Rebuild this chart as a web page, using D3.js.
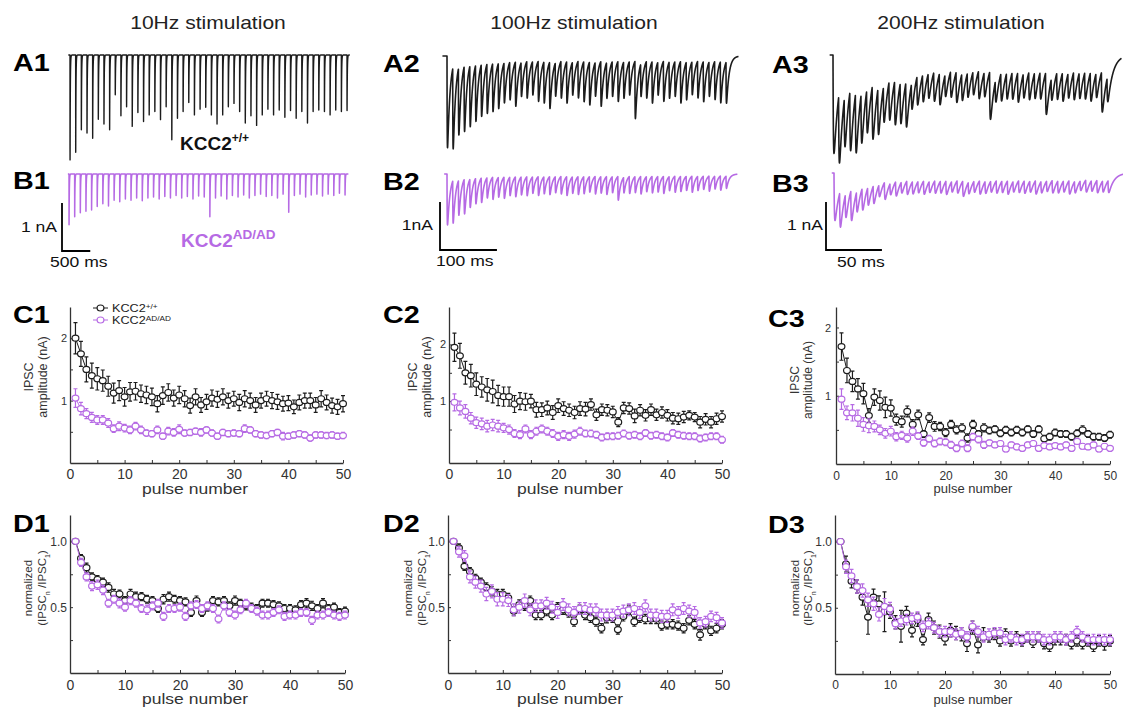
<!DOCTYPE html>
<html lang="en">
<head>
<meta charset="utf-8">
<title>KCC2 IPSC trains</title>
<script src="https://d3js.org/d3.v7.min.js"></script>
<style>
  body { margin: 0; background: #fff; }
  text { font-family: "Liberation Sans", Arial, Helvetica, sans-serif; }
</style>
</head>
<body>
<script>
// ---------- data ----------
var titles = ["10Hz stimulation", "100Hz stimulation", "200Hz stimulation"];
var periods = [100, 10, 5];          // ms between pulses
var xTickVals = [0, 10, 20, 30, 40, 50];

// example traces: IPSC amplitude (nA) added by each of the 50 pulses
var a1Amp = [2.19, 2.03, 1.56, 1.63, 1.74, 1.34, 1.44, 1.56, 0.83, 1.27,
             1.08, 1.49, 1.2, 1.39, 1.25, 1.18, 1.35, 1.08, 1.77, 1.32,
             1.18, 0.99, 1.25, 1.13, 1.09, 1.25, 1.44, 1.25, 1.08, 1.01,
             1.18, 1.42, 1.27, 1.47, 1.25, 1.13, 1.25, 1.15, 1.3, 1.16,
             1.32, 1.18, 1.42, 1.18, 1.15, 1.18, 1.25, 1.15, 1.18, 1.16];
var b1Amp = [1.06, 0.89, 0.81, 0.78, 0.75, 0.68, 0.62, 0.67, 0.55, 0.58,
             0.52, 0.55, 0.5, 0.56, 0.5, 0.48, 0.52, 0.47, 0.5, 0.45,
             0.5, 0.47, 0.52, 0.46, 0.48, 0.89, 0.5, 0.46, 0.52, 0.45,
             0.48, 0.44, 0.5, 0.45, 0.42, 0.47, 0.45, 0.5, 0.42, 0.8,
             0.45, 0.42, 0.48, 0.44, 0.42, 0.46, 0.42, 0.45, 0.4, 0.44];
var a2Amp = [1.91, 1.71, 1.42, 1.38, 1.29, 1.19, 1.1, 1.05, 1.02, 0.96,
             0.85, 0.8, 0.94, 0.72, 0.78, 0.71, 0.85, 0.87, 0.98, 0.71,
             0.78, 0.88, 0.7, 0.78, 0.85, 0.91, 0.72, 0.95, 0.76, 0.74,
             0.85, 0.77, 0.71, 1.21, 0.69, 0.78, 0.88, 0.7, 0.85, 0.77,
             0.74, 0.88, 0.8, 0.7, 0.78, 0.85, 0.73, 0.81, 0.87, 0.87];
var b2Amp = [1.06, 0.9, 0.74, 0.73, 0.6, 0.54, 0.52, 0.43, 0.47, 0.42,
             0.45, 0.39, 0.42, 0.38, 0.4, 0.35, 0.4, 0.36, 0.38, 0.34,
             0.37, 0.4, 0.35, 0.38, 0.36, 0.33, 0.37, 0.35, 0.38, 0.34,
             0.5, 0.33, 0.36, 0.34, 0.37, 0.32, 0.35, 0.33, 0.36, 0.3,
             0.34, 0.32, 0.3, 0.34, 0.3, 0.28, 0.32, 0.27, 0.3, 0.26];
var a3Amp = [2.05, 1.51, 1.12, 1.33, 1.34, 1.12, 0.98, 1.19, 1.04, 0.82,
             0.87, 0.98, 0.92, 1.0, 0.6, 0.65, 0.61, 0.56, 0.65, 0.7,
             0.5, 0.58, 0.68, 0.6, 0.55, 0.52, 0.62, 0.55, 1.04, 0.5,
             0.62, 0.58, 0.6, 0.66, 0.55, 0.62, 0.58, 0.6, 0.92, 0.5,
             0.6, 0.64, 0.56, 0.62, 0.58, 0.6, 0.64, 0.55, 0.88, 0.55];
var b3Amp = [0.99, 0.77, 0.53, 0.67, 0.46, 0.49, 0.4, 0.4, 0.27, 0.38,
             0.26, 0.32, 0.25, 0.3, 0.28, 0.26, 0.3, 0.25, 0.28, 0.27,
             0.3, 0.24, 0.28, 0.34, 0.26, 0.25, 0.3, 0.27, 0.25, 0.28,
             0.26, 0.3, 0.24, 0.27, 0.28, 0.25, 0.3, 0.26, 0.24, 0.28,
             0.27, 0.25, 0.3, 0.26, 0.22, 0.27, 0.24, 0.28, 0.25, 0.27];

// mean IPSC amplitude (nA), pulses 1..50
var c1Wt = [2.0, 1.75, 1.5, 1.4, 1.35, 1.32, 1.23, 1.12, 1.16, 1.06,
            1.14, 1.15, 1.11, 1.09, 1.06, 0.95, 1.08, 1.13, 1.04, 1.09,
            1.03, 0.92, 1.06, 0.93, 0.98, 1.04, 1.02, 1.06, 1.0, 1.03,
            0.97, 1.03, 1.0, 0.93, 1.0, 1.03, 1.0, 0.98, 0.95, 0.96,
            0.9, 0.97, 1.0, 1.0, 0.93, 1.03, 0.97, 0.92, 0.9, 0.95];
var c1WtErr = [0.25, 0.2, 0.2, 0.2, 0.18, 0.17, 0.16, 0.16, 0.16, 0.15,
               0.15, 0.14, 0.14, 0.14, 0.14, 0.13, 0.14, 0.14, 0.13, 0.14,
               0.13, 0.12, 0.13, 0.12, 0.12, 0.13, 0.13, 0.13, 0.12, 0.12,
               0.13, 0.13, 0.12, 0.12, 0.12, 0.12, 0.13, 0.12, 0.12, 0.12,
               0.11, 0.12, 0.12, 0.12, 0.12, 0.13, 0.12, 0.12, 0.12, 0.13];
var c1Ad = [1.04, 0.87, 0.79, 0.73, 0.69, 0.69, 0.64, 0.55, 0.59, 0.56,
            0.53, 0.59, 0.53, 0.48, 0.47, 0.53, 0.43, 0.51, 0.49, 0.54,
            0.48, 0.49, 0.51, 0.49, 0.53, 0.48, 0.43, 0.49, 0.47, 0.48,
            0.47, 0.55, 0.53, 0.47, 0.45, 0.44, 0.47, 0.49, 0.43, 0.43,
            0.45, 0.47, 0.45, 0.4, 0.45, 0.45, 0.44, 0.45, 0.43, 0.44];
var c1AdErr = [0.15, 0.1, 0.08, 0.08, 0.07, 0.07, 0.07, 0.06, 0.07, 0.06,
               0.06, 0.06, 0.06, 0.05, 0.05, 0.06, 0.05, 0.06, 0.06, 0.07,
               0.05, 0.05, 0.05, 0.06, 0.05, 0.05, 0.05, 0.05, 0.05, 0.05,
               0.05, 0.06, 0.05, 0.05, 0.05, 0.05, 0.05, 0.05, 0.06, 0.05,
               0.05, 0.05, 0.05, 0.05, 0.05, 0.05, 0.05, 0.05, 0.05, 0.05];
var c2Wt = [1.95, 1.8, 1.5, 1.45, 1.3, 1.25, 1.2, 1.17, 1.1, 1.08,
            1.08, 0.95, 1.0, 0.99, 1.0, 0.85, 0.85, 0.88, 0.8, 0.92,
            0.87, 0.84, 0.8, 0.87, 0.86, 0.94, 0.76, 0.85, 0.84, 0.81,
            0.63, 0.88, 0.87, 0.74, 0.84, 0.75, 0.85, 0.76, 0.8, 0.75,
            0.7, 0.69, 0.72, 0.75, 0.72, 0.63, 0.68, 0.63, 0.69, 0.73];
var c2WtErr = [0.25, 0.22, 0.2, 0.2, 0.2, 0.18, 0.2, 0.2, 0.18, 0.17,
               0.17, 0.15, 0.15, 0.15, 0.12, 0.13, 0.12, 0.12, 0.12, 0.12,
               0.12, 0.11, 0.11, 0.12, 0.12, 0.1, 0.1, 0.1, 0.1, 0.1,
               0.08, 0.1, 0.1, 0.12, 0.1, 0.1, 0.1, 0.1, 0.1, 0.1,
               0.1, 0.1, 0.1, 0.08, 0.08, 0.1, 0.1, 0.1, 0.1, 0.1];
var c2Ad = [0.98, 0.88, 0.82, 0.7, 0.62, 0.6, 0.56, 0.58, 0.56, 0.53,
            0.5, 0.43, 0.41, 0.51, 0.41, 0.47, 0.51, 0.47, 0.43, 0.38,
            0.41, 0.38, 0.42, 0.47, 0.43, 0.43, 0.41, 0.36, 0.38, 0.38,
            0.39, 0.43, 0.39, 0.41, 0.38, 0.44, 0.39, 0.41, 0.38, 0.36,
            0.44, 0.41, 0.39, 0.38, 0.38, 0.34, 0.36, 0.38, 0.38, 0.32];
var c2AdErr = [0.15, 0.12, 0.12, 0.1, 0.1, 0.1, 0.1, 0.1, 0.1, 0.08,
               0.08, 0.07, 0.07, 0.07, 0.07, 0.07, 0.07, 0.07, 0.07, 0.07,
               0.07, 0.07, 0.07, 0.07, 0.06, 0.06, 0.06, 0.06, 0.06, 0.06,
               0.06, 0.06, 0.06, 0.06, 0.06, 0.06, 0.06, 0.06, 0.06, 0.06,
               0.06, 0.06, 0.06, 0.06, 0.06, 0.06, 0.06, 0.06, 0.06, 0.06];
var c3Wt = [1.72, 1.37, 1.21, 1.1, 1.03, 0.71, 0.98, 0.93, 0.83, 0.82,
            0.65, 0.62, 0.77, 0.58, 0.72, 0.44, 0.68, 0.55, 0.55, 0.46,
            0.58, 0.5, 0.53, 0.38, 0.58, 0.44, 0.53, 0.49, 0.51, 0.45,
            0.5, 0.46, 0.5, 0.46, 0.51, 0.44, 0.51, 0.37, 0.4, 0.46,
            0.44, 0.44, 0.4, 0.45, 0.5, 0.44, 0.4, 0.4, 0.38, 0.43];
var c3WtErr = [0.2, 0.18, 0.15, 0.15, 0.15, 0.1, 0.12, 0.14, 0.15, 0.12,
               0.08, 0.08, 0.08, 0.07, 0.07, 0.05, 0.07, 0.07, 0.06, 0.06,
               0.06, 0.06, 0.06, 0.06, 0.06, 0.05, 0.06, 0.05, 0.05, 0.05,
               0.05, 0.05, 0.05, 0.05, 0.05, 0.05, 0.05, 0.05, 0.05, 0.05,
               0.05, 0.05, 0.05, 0.05, 0.06, 0.05, 0.05, 0.05, 0.05, 0.05];
var c3Ad = [0.95, 0.75, 0.75, 0.67, 0.58, 0.56, 0.55, 0.5, 0.45, 0.48,
            0.4, 0.42, 0.38, 0.48, 0.41, 0.31, 0.37, 0.3, 0.33, 0.32,
            0.28, 0.23, 0.3, 0.23, 0.4, 0.36, 0.28, 0.31, 0.28, 0.3,
            0.22, 0.28, 0.25, 0.23, 0.28, 0.3, 0.23, 0.27, 0.25, 0.27,
            0.25, 0.28, 0.23, 0.33, 0.26, 0.25, 0.28, 0.22, 0.26, 0.23];
var c3AdErr = [0.15, 0.1, 0.12, 0.12, 0.1, 0.1, 0.08, 0.07, 0.07, 0.07,
               0.06, 0.06, 0.06, 0.06, 0.05, 0.05, 0.05, 0.05, 0.05, 0.05,
               0.05, 0.05, 0.05, 0.05, 0.05, 0.05, 0.05, 0.04, 0.04, 0.04,
               0.04, 0.04, 0.04, 0.04, 0.04, 0.04, 0.04, 0.04, 0.04, 0.04,
               0.04, 0.04, 0.04, 0.04, 0.04, 0.04, 0.04, 0.04, 0.04, 0.04];

// normalized amplitude IPSCn / IPSC1
var d1Wt = [1.0, 0.87, 0.8, 0.73, 0.71, 0.69, 0.65, 0.6, 0.6, 0.55,
            0.6, 0.58, 0.58, 0.56, 0.55, 0.49, 0.56, 0.58, 0.56, 0.55,
            0.54, 0.46, 0.55, 0.46, 0.5, 0.55, 0.54, 0.55, 0.51, 0.55,
            0.53, 0.51, 0.5, 0.49, 0.53, 0.53, 0.52, 0.51, 0.49, 0.49,
            0.48, 0.52, 0.53, 0.51, 0.49, 0.53, 0.49, 0.5, 0.46, 0.47];
var d1WtErr = [0, 0.03, 0.035, 0.03, 0.03, 0.03, 0.035, 0.035, 0.03, 0.03,
               0.035, 0.035, 0.03, 0.03, 0.03, 0.03, 0.035, 0.035, 0.03, 0.03,
               0.03, 0.03, 0.035, 0.03, 0.03, 0.03, 0.03, 0.03, 0.03, 0.035,
               0.03, 0.03, 0.03, 0.03, 0.03, 0.03, 0.03, 0.03, 0.03, 0.03,
               0.03, 0.03, 0.035, 0.035, 0.03, 0.035, 0.03, 0.03, 0.03, 0.03];
var d1Ad = [1.0, 0.84, 0.73, 0.66, 0.67, 0.63, 0.53, 0.56, 0.53, 0.5,
            0.55, 0.53, 0.49, 0.48, 0.51, 0.53, 0.43, 0.49, 0.49, 0.5,
            0.43, 0.51, 0.52, 0.49, 0.51, 0.49, 0.41, 0.51, 0.46, 0.44,
            0.48, 0.53, 0.49, 0.47, 0.44, 0.44, 0.46, 0.48, 0.43, 0.44,
            0.44, 0.46, 0.46, 0.4, 0.44, 0.44, 0.46, 0.44, 0.43, 0.44];
var d1AdErr = [0, 0.03, 0.03, 0.035, 0.035, 0.035, 0.03, 0.03, 0.035, 0.03,
               0.03, 0.03, 0.03, 0.035, 0.03, 0.03, 0.03, 0.03, 0.03, 0.03,
               0.03, 0.03, 0.03, 0.03, 0.03, 0.03, 0.03, 0.03, 0.03, 0.03,
               0.03, 0.03, 0.03, 0.03, 0.03, 0.03, 0.03, 0.03, 0.03, 0.03,
               0.03, 0.03, 0.03, 0.03, 0.03, 0.03, 0.03, 0.03, 0.03, 0.03];
var d2Wt = [1.0, 0.95, 0.81, 0.77, 0.72, 0.69, 0.65, 0.62, 0.6, 0.6,
            0.57, 0.47, 0.52, 0.51, 0.55, 0.44, 0.44, 0.47, 0.44, 0.5,
            0.48, 0.46, 0.39, 0.48, 0.44, 0.42, 0.39, 0.34, 0.42, 0.42,
            0.33, 0.43, 0.48, 0.39, 0.42, 0.41, 0.41, 0.41, 0.36, 0.37,
            0.37, 0.36, 0.34, 0.4, 0.37, 0.29, 0.37, 0.32, 0.34, 0.37];
var d2WtErr = [0, 0.03, 0.03, 0.03, 0.03, 0.03, 0.035, 0.035, 0.035, 0.035,
               0.035, 0.035, 0.035, 0.035, 0.035, 0.035, 0.035, 0.035, 0.035, 0.035,
               0.035, 0.035, 0.035, 0.035, 0.035, 0.035, 0.035, 0.035, 0.04, 0.035,
               0.035, 0.035, 0.035, 0.035, 0.035, 0.035, 0.035, 0.035, 0.035, 0.035,
               0.035, 0.035, 0.035, 0.035, 0.035, 0.04, 0.035, 0.035, 0.035, 0.035];
var d2Ad = [1.0, 0.92, 0.89, 0.73, 0.69, 0.66, 0.6, 0.62, 0.56, 0.56,
            0.55, 0.48, 0.5, 0.55, 0.48, 0.51, 0.51, 0.53, 0.5, 0.46,
            0.52, 0.48, 0.46, 0.49, 0.49, 0.48, 0.48, 0.44, 0.44, 0.44,
            0.46, 0.47, 0.48, 0.49, 0.46, 0.51, 0.44, 0.44, 0.43, 0.43,
            0.48, 0.46, 0.49, 0.47, 0.46, 0.38, 0.39, 0.43, 0.42, 0.38];
var d2AdErr = [0, 0.04, 0.04, 0.045, 0.045, 0.045, 0.05, 0.05, 0.05, 0.05,
               0.045, 0.045, 0.045, 0.05, 0.045, 0.045, 0.045, 0.045, 0.045, 0.045,
               0.045, 0.045, 0.045, 0.045, 0.045, 0.045, 0.045, 0.045, 0.045, 0.045,
               0.045, 0.045, 0.045, 0.045, 0.045, 0.045, 0.045, 0.045, 0.045, 0.045,
               0.045, 0.045, 0.045, 0.045, 0.045, 0.04, 0.04, 0.04, 0.04, 0.04];
var d3Wt = [1.0, 0.83, 0.7, 0.66, 0.58, 0.43, 0.58, 0.53, 0.47, 0.47,
            0.39, 0.36, 0.46, 0.33, 0.41, 0.26, 0.41, 0.35, 0.32, 0.27,
            0.33, 0.31, 0.3, 0.23, 0.35, 0.22, 0.3, 0.28, 0.3, 0.25,
            0.3, 0.25, 0.28, 0.25, 0.28, 0.24, 0.28, 0.23, 0.21, 0.26,
            0.26, 0.26, 0.23, 0.25, 0.23, 0.25, 0.21, 0.25, 0.23, 0.25];
var d3WtErr = [0, 0.06, 0.05, 0.05, 0.06, 0.13, 0.06, 0.06, 0.15, 0.05,
               0.05, 0.12, 0.05, 0.05, 0.05, 0.04, 0.05, 0.05, 0.05, 0.05,
               0.05, 0.05, 0.05, 0.06, 0.05, 0.06, 0.05, 0.04, 0.04, 0.04,
               0.04, 0.04, 0.04, 0.04, 0.04, 0.04, 0.04, 0.04, 0.04, 0.04,
               0.04, 0.04, 0.04, 0.04, 0.04, 0.04, 0.04, 0.04, 0.05, 0.04];
var d3Ad = [1.0, 0.81, 0.74, 0.66, 0.63, 0.56, 0.53, 0.45, 0.51, 0.49,
            0.38, 0.4, 0.41, 0.42, 0.43, 0.36, 0.38, 0.35, 0.32, 0.32,
            0.32, 0.3, 0.31, 0.28, 0.36, 0.32, 0.28, 0.3, 0.31, 0.31,
            0.26, 0.28, 0.26, 0.26, 0.28, 0.28, 0.28, 0.26, 0.26, 0.28,
            0.28, 0.26, 0.28, 0.32, 0.28, 0.26, 0.26, 0.26, 0.26, 0.26];
var d3AdErr = [0, 0.05, 0.05, 0.05, 0.05, 0.05, 0.05, 0.05, 0.06, 0.05,
               0.04, 0.04, 0.04, 0.04, 0.04, 0.04, 0.04, 0.04, 0.04, 0.04,
               0.04, 0.04, 0.04, 0.04, 0.04, 0.04, 0.04, 0.04, 0.04, 0.04,
               0.04, 0.04, 0.04, 0.04, 0.04, 0.04, 0.04, 0.04, 0.04, 0.04,
               0.04, 0.04, 0.04, 0.04, 0.04, 0.04, 0.04, 0.04, 0.04, 0.04];

// ---------- setup ----------
var W = 1123, H = 707;
var BLACK = "#1c1c1c", PURPLE = "#b66ae4", AXIS = "#333";
var NA_PX = 48;   // 1 nA in the example traces
var FONT = '"Liberation Sans", Arial, Helvetica, sans-serif';

var svg = d3.select("body").append("svg").attr("width", W).attr("height", H);

// text that is stretched horizontally a little, like the figure
function T(x, y, str, size, o) {
  o = o || {};
  var g = svg.append("g")
    .attr("transform", "translate(" + x + "," + y + ") scale(" + (o.sx || 1) + ",1)");
  return g.append("text")
    .attr("font-size", size)
    .attr("font-weight", o.bold ? "bold" : "normal")
    .attr("fill", o.fill || "#222")
    .attr("text-anchor", o.anchor || "start")
    .text(str);
}
function sup(t, str, size, dy) {
  t.append("tspan").attr("font-size", size).attr("dy", -dy).text(str);
}

// column titles
[208, 574, 961].forEach(function (cx, i) {
  T(cx, 29, titles[i], 18, {anchor: "middle", sx: 1.17, fill: "#222"});
});

// panel letters
var panelLabels = [
  ["A1", 13, 71], ["B1", 13, 189], ["C1", 13, 323], ["D1", 13, 532],
  ["A2", 383, 72], ["B2", 383, 190], ["C2", 383, 323], ["D2", 383, 532],
  ["A3", 772, 73], ["B3", 772, 192], ["C3", 768, 327], ["D3", 768, 533]
];
panelLabels.forEach(function (p) {
  T(p[1], p[2], p[0], 23, {bold: true, sx: 1.25, fill: "#000"});
});

// ---------- example traces ----------
var TAU_D = 4.5, TAU_R = 0.35;
function rawK(t) { return t < 0 ? 0 : (1 - Math.exp(-t / TAU_R)) * Math.exp(-t / TAU_D); }
var kNorm = d3.max(d3.range(0, 5, 0.01), rawK);
function kern(t) { return rawK(t) / kNorm; }

function drawTrace(amps, period, px, base, t0, t1, dt, color, sw) {
  var x = d3.scaleLinear().domain([0, period * (amps.length - 1)]).range(px);
  var y = d3.scaleLinear().domain([0, 1]).range([base, base + NA_PX]);
  var n = Math.round((t1 - t0) / dt);
  var pts = d3.range(n + 1).map(function (k) {
    var t = t0 + k * dt, I = 0;
    for (var i = 0; i < amps.length; i++) {
      var s = t - i * period;
      if (s >= 0 && s < 80) I += amps[i] * kern(s);
    }
    return [t, I];
  });
  svg.append("path")
    .attr("d", d3.line().x(function (d) { return x(d[0]); }).y(function (d) { return y(d[1]); })(pts))
    .attr("fill", "none")
    .attr("stroke", color)
    .attr("stroke-width", sw)
    .attr("stroke-linejoin", "round");
  return {x: x, y: y};
}

var tA1 = drawTrace(a1Amp, periods[0], [70, 347], 55, -30, 4950, 0.5, BLACK, 1.4);
drawTrace(b1Amp, periods[0], [69, 345], 174, -20, 4960, 0.5, PURPLE, 1.5);
var tA2 = drawTrace(a2Amp, periods[1], [447, 726], 56, -8, 512, 0.1, BLACK, 1.6);
drawTrace(b2Amp, periods[1], [447, 726], 174, -5, 510, 0.1, PURPLE, 1.6);
var tA3 = drawTrace(a3Amp, periods[2], [833, 1107], 55, -3, 258, 0.05, BLACK, 1.6);
drawTrace(b3Amp, periods[2], [834, 1108], 173, -2, 260, 0.05, PURPLE, 1.6);

// scale bars (1 nA, time)
function scaleBar(cx, cy, tr, ms, nALabel, msLabel, nAx, nAy, msx, msy) {
  var len = tr.x(ms) - tr.x(0);
  svg.append("path")
    .attr("d", "M" + cx + "," + (cy - NA_PX) + "V" + cy + "H" + (cx + len))
    .attr("fill", "none").attr("stroke", "#000").attr("stroke-width", 1.8);
  T(nAx, nAy, nALabel, 15, {anchor: "end", sx: 1.17, fill: "#111"});
  T(msx, msy, msLabel, 15, {sx: 1.17, fill: "#111"});
}
scaleBar(62, 251, tA1, 500, "1 nA", "500 ms", 57, 232, 50, 267);
scaleBar(440, 250, tA2, 100, "1nA", "100 ms", 433, 230, 436, 266);
scaleBar(826, 250, tA3, 50, "1 nA", "50 ms", 823, 230, 837, 267);

// genotype labels
var k1 = T(180, 150, "KCC2", 19, {bold: true, fill: "#111"});
sup(k1, "+/+", 12, 8);
var k2 = T(181, 247, "KCC2", 19, {bold: true, fill: PURPLE});
sup(k2, "AD/AD", 13.5, 8);

// ---------- summary plots ----------
function drawPlot(p) {
  var x = d3.scaleLinear().domain([0, 50]).range([p.x0, p.x1]);
  var y = d3.scaleLinear().domain(p.yDom).range([p.yBot, p.yTop]);

  var gx = svg.append("g")
    .attr("transform", "translate(0," + p.yBot + ")")
    .call(d3.axisBottom(x).tickValues(d3.range(0, 51, 5)).tickSize(-3).tickSizeOuter(0)
      .tickPadding(p.xPad).tickFormat(function (d) { return xTickVals.indexOf(d) >= 0 ? d : ""; }));
  gx.attr("font-family", FONT).attr("font-size", p.xFont);
  gx.select(".domain").attr("stroke", AXIS).attr("stroke-width", 1.3);
  gx.selectAll(".tick line").attr("stroke", AXIS).attr("stroke-width", 1);
  gx.selectAll(".tick text").attr("fill", "#333");

  var gy = svg.append("g")
    .attr("transform", "translate(" + p.x0 + ",0)")
    .call(d3.axisLeft(y).tickValues(p.yTicks).tickSize(-3).tickSizeOuter(0)
      .tickPadding(p.yPad).tickFormat(function (d) { return p.yLabels.indexOf(d) >= 0 ? p.yFmt(d) : ""; }));
  gy.attr("font-family", FONT).attr("font-size", p.yFont);
  gy.select(".domain").attr("stroke", AXIS).attr("stroke-width", 1.3);
  gy.selectAll(".tick line").attr("stroke", AXIS).attr("stroke-width", 1);
  gy.selectAll(".tick text").attr("fill", "#333");

  // axis titles
  T(p.xtX, p.xtY, "pulse number", p.xtSize, {anchor: "middle", sx: p.xtSx, fill: "#333"});
  p.yTitle.forEach(function (line, i) {
    var t = svg.append("g")
      .attr("transform", "translate(" + p.ytX[i] + "," + p.ytY + ") rotate(-90)")
      .append("text")
      .attr("text-anchor", "middle")
      .attr("font-size", p.ytSize)
      .attr("fill", "#333");
    line.forEach(function (part) {
      var ts = t.append("tspan").text(part[0]);
      if (part[1]) ts.attr("font-size", p.ytSize * 0.62).attr("baseline-shift", "sub");
    });
  });

  p.series.forEach(function (s) {
    var g = svg.append("g");
    g.append("path")
      .attr("d", d3.line().x(function (d, i) { return x(i + 1); }).y(function (d) { return y(d); })(s.vals))
      .attr("fill", "none").attr("stroke", s.color).attr("stroke-width", 1);
    g.selectAll(".err").data(s.vals).join("path")
      .attr("d", function (d, i) {
        var xx = x(i + 1), hi = y(d + s.errs[i]), lo = y(d - s.errs[i]);
        return "M" + xx + "," + hi + "V" + lo +
               "M" + (xx - 2) + "," + hi + "H" + (xx + 2) +
               "M" + (xx - 2) + "," + lo + "H" + (xx + 2);
      })
      .attr("fill", "none").attr("stroke", s.color).attr("stroke-width", 1.2);
    g.selectAll("ellipse").data(s.vals).join("ellipse")
      .attr("cx", function (d, i) { return x(i + 1); })
      .attr("cy", function (d) { return y(d); })
      .attr("rx", 3.4).attr("ry", 3.0)
      .attr("fill", "#fff").attr("stroke", s.color).attr("stroke-width", 1.2);
  });
}

var ampTitle = [[["IPSC"]], [["amplitude (nA)"]]];
var normTitle = [[["normalized"]], [["(IPSC"], ["n", true], [" /IPSC"], ["1", true], [")"]]];
var fmtInt = function (d) { return d3.format("d")(d); };
var fmt1 = function (d) { return d3.format(".1f")(d); };

var cBase = {yTop: 307, yBot: 463, yTicks: [0.5, 1, 1.5, 2], yLabels: [1, 2], yFmt: fmtInt,
             yFont: 11, yPad: 3, xFont: 14, xPad: 6, xtSize: 14, xtSx: 1.25, xtY: 494,
             yTitle: ampTitle, ytSize: 12.5, ytY: 377};
var dBase = {yTop: 515, yBot: 673, yDom: [0, 1.2], yTicks: [0.25, 0.5, 0.75, 1.0], yLabels: [0.5, 1.0],
             yFmt: fmt1, yFont: 12, yPad: 3, xFont: 14, xPad: 7, xtSize: 14, xtSx: 1.25, xtY: 704,
             yTitle: normTitle, ytSize: 11.5, ytY: 588};

drawPlot(Object.assign({}, cBase, {x0: 70, x1: 343, yDom: [0, 2.5], xtX: 195, ytX: [33, 47],
  series: [{vals: c1Wt, errs: c1WtErr, color: BLACK}, {vals: c1Ad, errs: c1AdErr, color: PURPLE}]}));
drawPlot(Object.assign({}, cBase, {x0: 449, x1: 722, yDom: [-0.09, 2.66], xtX: 570, ytX: [417, 431],
  series: [{vals: c2Wt, errs: c2WtErr, color: BLACK}, {vals: c2Ad, errs: c2AdErr, color: PURPLE}]}));
drawPlot(Object.assign({}, cBase, {x0: 836, x1: 1110, yTop: 307, yBot: 464, yDom: [0, 2.3], xFont: 12, xPad: 7,
  xtSize: 13, xtSx: 1, xtX: 973, xtY: 493, ytX: [799, 812], ytSize: 12, ytY: 380, yPad: 5,
  series: [{vals: c3Wt, errs: c3WtErr, color: BLACK}, {vals: c3Ad, errs: c3AdErr, color: PURPLE}]}));

drawPlot(Object.assign({}, dBase, {x0: 70, x1: 345, xtX: 195, ytX: [32, 46],
  series: [{vals: d1Wt, errs: d1WtErr, color: BLACK}, {vals: d1Ad, errs: d1AdErr, color: PURPLE}]}));
drawPlot(Object.assign({}, dBase, {x0: 448, x1: 722, xtX: 570, ytX: [412, 426],
  series: [{vals: d2Wt, errs: d2WtErr, color: BLACK}, {vals: d2Ad, errs: d2AdErr, color: PURPLE}]}));
drawPlot(Object.assign({}, dBase, {x0: 835, x1: 1110, yBot: 674, xFont: 12, xPad: 6, xtSize: 13, xtSx: 1,
  xtX: 973, ytX: [799, 812],
  series: [{vals: d3Wt, errs: d3WtErr, color: BLACK}, {vals: d3Ad, errs: d3AdErr, color: PURPLE}]}));

// legend in C1
[[BLACK, 308, "+/+"], [PURPLE, 320, "AD/AD"]].forEach(function (l) {
  svg.append("line").attr("x1", 93).attr("x2", 108).attr("y1", l[1]).attr("y2", l[1])
    .attr("stroke", l[0]).attr("stroke-width", 1);
  svg.append("ellipse").attr("cx", 100.5).attr("cy", l[1]).attr("rx", 3.4).attr("ry", 3.0)
    .attr("fill", "#fff").attr("stroke", l[0]).attr("stroke-width", 1.2);
  var t = T(112, l[1] + 4, "KCC2", 11.5, {sx: 1.1, fill: "#222"});
  sup(t, l[2], 7.5, 3.5);
});
</script>
</body>
</html>
